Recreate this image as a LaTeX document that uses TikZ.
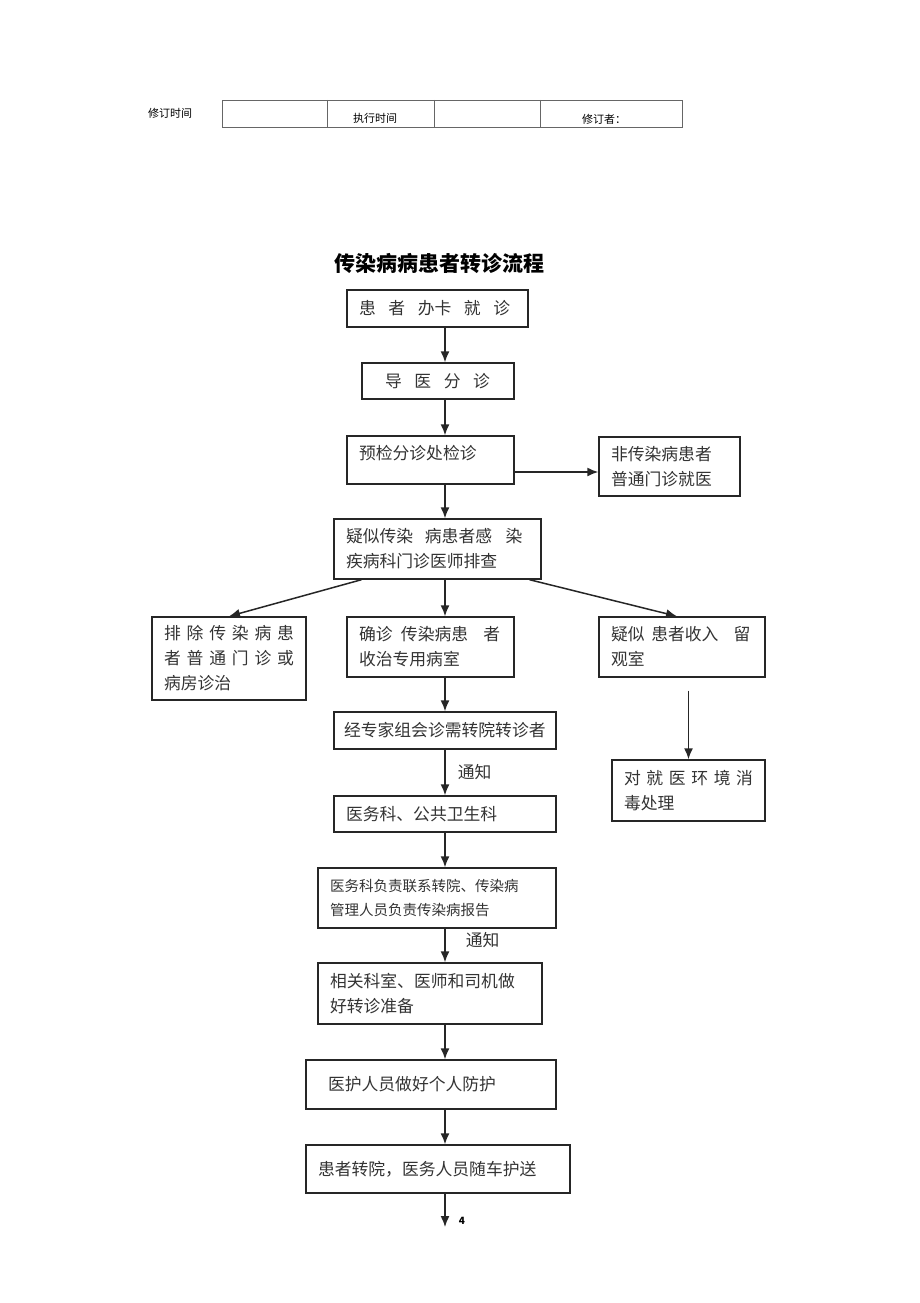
\documentclass[tikz,border=0pt]{standalone}
\usepackage{fontspec}
\setmainfont{Noto Sans CJK SC}
\usepackage{tikz}
\usetikzlibrary{calc}
\usetikzlibrary{arrows.meta,positioning}

\newcommand{\flowfont}{\fontsize{16.8}{25}\selectfont}
\newcommand{\smallflowfont}{\fontsize{14.5}{24}\selectfont}
\newcommand{\zgap}{\kern0.75em}
\newcommand{\jfill}{\hskip 0pt plus 1filll\relax}

\begin{document}
\begin{tikzpicture}[
    x=1pt, y=-1pt,
    box/.style={
      draw=black!85,
      line width=1.4pt,
      inner xsep=12pt,
      inner ysep=0pt,
      align=left,
      text=black!80,
      font=\flowfont
    },
    arr/.style={
      -{Latex[length=11pt,width=9pt]},
      line width=1.5pt,
      draw=black!85
    },
    note/.style={
      text=black!80,
      font=\flowfont,
      inner sep=0pt
    },
    head/.style={
      font=\fontsize{11}{13}\selectfont
    },
    grid/.style={
      draw=black!60,
      line width=0.6pt
    }
]
\useasboundingbox (0,0) rectangle (920,1303);

%% Header
\draw[grid] (222,100) rectangle (682,127);
\foreach \xx in {327,434,540} \draw[grid] (\xx,100) -- (\xx,127);
\node[head] (revtime) at (170,113) {修订时间};
\node[head] (exectime) at (375,118) {执行时间};
\node[head] (reviser) at (604,119) {修订者：};

\node[font=\fontsize{21}{25}\selectfont\bfseries] (title) at (439,264) {传染病病患者转诊流程};

%% Boxes
\node [box, text width=157pt, minimum height=37pt] (card) at (437.5,308.5) {患\zgap 者\zgap 办卡\zgap 就\zgap 诊};
\node [box, text width=128pt, minimum height=36pt] (guide) at (438,381) {\kern11pt 导\zgap 医\zgap 分\zgap 诊};
\node [box, text width=143pt, minimum height=48pt] (triage) at (430.5,460) {预检分诊处检诊\\[-9pt]\mbox{}};
\node [box, text width=117pt, minimum height=59pt] (general) at (669.5,466.5) {非传染病患者\\普通门诊就医};
\node [box, text width=183pt, minimum height=60pt] (suspect) at (437.5,549) {疑似传染\kern0.7em 病患者感\kern0.8em 染\\疾病科门诊医师排查};
\node [box, text width=130pt, minimum height=83pt] (excluded) at (229,658.5) {排\jfill 除\jfill 传\jfill 染\jfill 病\jfill 患\\者\jfill 普\jfill 通\jfill 门\jfill 诊\jfill 或\\病房诊治};
\node [box, text width=143pt, minimum height=60pt] (confirmed) at (430.5,647) {确诊\kern0.5em 传染病患\kern0.9em 者\\收治专用病室};
\node [box, text width=142pt, minimum height=60pt] (observe) at (682,647) {疑似\kern0.4em 患者收入\kern0.9em 留\\观室};
\node [box, inner xsep=10pt, text width=202pt, minimum height=37pt] (expert) at (445,730.5) {经专家组会诊需转院转诊者};
\node [box, text width=129pt, minimum height=61pt] (disinfect) at (688.5,790.5) {对\jfill 就\jfill 医\jfill 环\jfill 境\jfill 消\\毒处理};
\node [box, text width=198pt, minimum height=36pt] (office) at (445,814) {医务科、公共卫生科};
\node [box, font=\smallflowfont, text width=214pt, minimum height=60pt] (report) at (437,898) {医务科负责联系转院、传染病\\管理人员负责传染病报告};
\node [box, text width=200pt, minimum height=61pt] (prepare) at (430,993.5) {相关科室、医师和司机做\\好转诊准备};
\node [box, text width=226pt, minimum height=49pt] (protect) at (431,1084.5) {\kern10pt 医护人员做好个人防护};
\node [box, text width=240pt, minimum height=48pt] (transfer) at (438,1169) {患者转院，医务人员随车护送};

\coordinate (axis) at (445,0);
\coordinate (tail) at (445,1227);
\node[font=\fontsize{10}{12}\selectfont\bfseries] (pnum) at (462,1221) {4};

%% Arrows
\draw [arr] (card.south -| axis) -- (guide.north -| axis);
\draw [arr] (guide.south -| axis) -- (triage.north -| axis);
\draw [arr] ($(triage.east)+(0,12)$) -- ($(triage.east -| general.west)+(0,12)$);
\draw [arr] (triage.south -| axis) -- (suspect.north -| axis);
\draw [arr] ([xshift=-76pt]suspect.south) -- (excluded.north);
\draw [arr] (suspect.south -| axis) -- (confirmed.north -| axis);
\draw [arr] ([xshift=92pt]suspect.south) -- ([xshift=-5pt]observe.north);
\draw [arr] (confirmed.south -| axis) -- (expert.north -| axis);
\draw [arr] ($(observe.south -| disinfect.north)+(0,13)$) -- (disinfect.north);
\draw [arr] (expert.south -| axis) -- node[note, right, xshift=12pt] {通知} (office.north -| axis);
\draw [arr] (office.south -| axis) -- (report.north -| axis);
\draw [arr] (report.south -| axis) -- node[note, right, xshift=20pt, yshift=5pt] {通知} (prepare.north -| axis);
\draw [arr] (prepare.south -| axis) -- (protect.north -| axis);
\draw [arr] (protect.south -| axis) -- (transfer.north -| axis);
\draw [arr] (transfer.south -| axis) -- (tail);

\end{tikzpicture}
\end{document}
